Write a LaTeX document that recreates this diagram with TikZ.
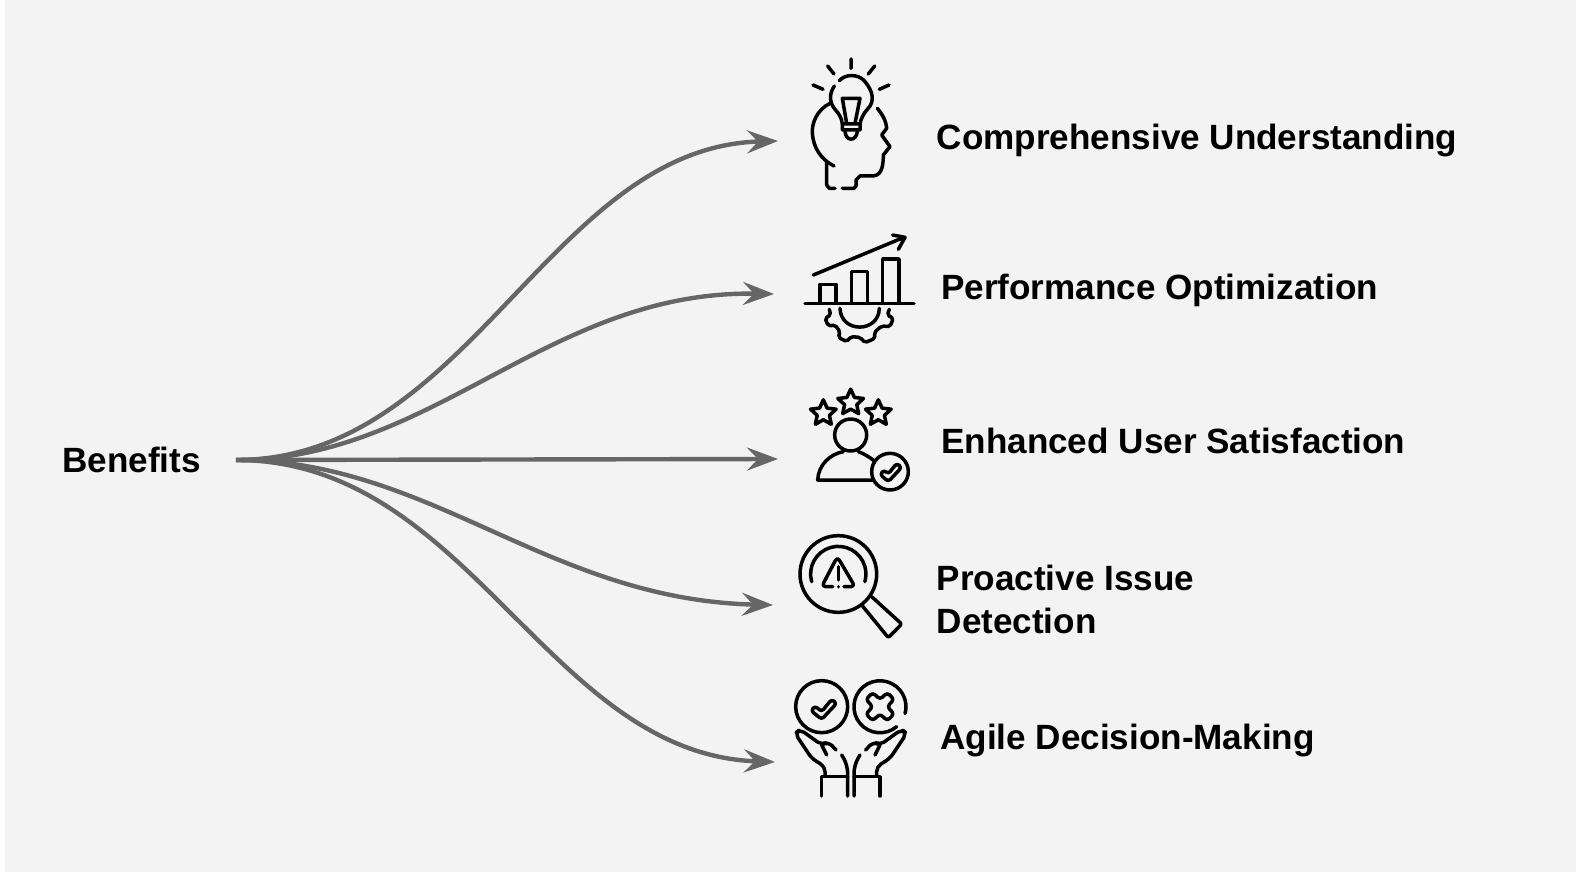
\documentclass[tikz,border=0pt]{standalone}
\usepackage{fontspec}
\setmainfont{Liberation Sans}
\usetikzlibrary{shapes.geometric,arrows.meta}
\definecolor{panelgray}{HTML}{F3F3F3}
\definecolor{branchgray}{HTML}{666666}

\tikzset{
  label/.style={font=\fontsize{35.1}{43}\selectfont\bfseries, anchor=west, inner sep=0pt, align=left, text=black},
  branch/.style={draw=branchgray, line width=4.4pt, -{Stealth[length=31pt,width=23pt,inset=11pt]}},
  icon/.style={draw=black, line width=3.5pt, line cap=round, line join=round},
  iconstar/.style={icon, shape=star, star points=5, star point ratio=2.1, minimum size=27pt, inner sep=0pt}
}

\begin{document}
\begin{tikzpicture}[x=1pt, y=-1pt]
  \useasboundingbox (0,0) rectangle (1576,874);
  \fill[panelgray] (4.5,0) rectangle (1576,871.5);

  \node[label] (benefits) at (62,460) {Benefits};
  \node[label] (compre) at (936.5,140.5) {Comprehensive Understanding};
  \node[label] (perf) at (941,290.5) {Performance Optimization};
  \node[label] (user) at (941,441) {Enhanced User Satisfaction};
  \node[label] (issue) at (936.5,599) {Proactive Issue\\Detection};
  \node[label] (agile) at (940,740) {Agile Decision-Making};

  \coordinate (hub) at (236,460);
  \coordinate (tipa) at (778,141);
  \coordinate (tipb) at (774,294);
  \coordinate (tipc) at (778,459);
  \coordinate (tipd) at (773,605);
  \coordinate (tipe) at (775,762);

  \draw[branch] (hub) .. controls +(234,0) and +(-228,6) .. (tipa);
  \draw[branch] (hub) .. controls +(198,0) and +(-225,-4) .. (tipb);
  \draw[branch] (hub) -- (tipc);
  \draw[branch] (hub) .. controls +(195,0) and +(-225,-5) .. (tipd);
  \draw[branch] (hub) .. controls +(234,0) and +(-228,-8) .. (tipe);

  % head with bulb
  \begin{scope}[shift={(780,40)}, scale=1/3]
    \draw[icon] (213,57) -- (213,85) (143,78) -- (162,102) (284,78) -- (265,102) (99,135) -- (129,148) (327,135) -- (298,148);
    \draw[icon] (178,122) .. controls (195,102) and (235,100) .. (255,125) .. controls (280,155) and (285,185) .. (262,208) .. controls (250,222) and (243,235) .. (240,252) -- (240,270) -- (187,270) -- (187,252) .. controls (185,235) and (178,222) .. (165,208) .. controls (150,190) and (145,165) .. (163,138);
    \draw[icon] (187,252) -- (240,252) (195,275) .. controls (198,305) and (228,305) .. (232,275);
    \draw[icon] (200,250) -- (187,175) -- (240,175) -- (225,250);
    \draw[icon] (150,190) .. controls (110,210) and (95,250) .. (97,280) .. controls (100,325) and (125,360) .. (162,378);
    \draw[icon] (140,365) -- (140,435) -- (148,445) -- (165,445);
    \draw[icon] (187,445) -- (222,445) -- (228,438) -- (228,420) -- (240,408) -- (275,408) .. controls (300,408) and (310,390) .. (310,345) -- (330,320) -- (305,285) -- (320,265) .. controls (318,240) and (305,220) .. (292,205);
  \end{scope}

  % chart on gear
  \begin{scope}[shift={(780,220)}, scale=1/3]
    \draw[icon] (75,250) -- (402,250);
    \draw[icon] (120,250) -- (120,193) -- (168,193) -- (168,250);
    \draw[icon] (215,250) -- (215,155) -- (263,155) -- (263,250);
    \draw[icon] (308,250) -- (308,117) -- (357,117) -- (357,250);
    \draw[icon] (100,165) -- (372,52) (338,45) -- (375,52) -- (355,88);
    \draw[icon] (180,265) .. controls (182,340) and (296,340) .. (298,265);
    \draw[icon, rounded corners=2pt] (148,268) -- (152,285) -- (135,295) -- (145,318) -- (165,315) -- (180,335) -- (175,352) -- (200,365) -- (213,350) -- (240,352) -- (255,368) -- (285,355) -- (283,337) -- (305,318) -- (330,320) -- (340,295) -- (322,285) -- (328,268);
  \end{scope}

  % user with stars
  \begin{scope}[shift={(780,380)}, scale=1/3]
    \foreach \name/\px/\py in {stara/130/100, starb/212/68, starc/295/100}
      \node[iconstar] (\name) at (\px,\py) {};
    \draw[icon] (212,165) circle (48);
    \draw[icon] (278,300) -- (113,300) .. controls (115,255) and (150,222) .. (190,215);
    \draw[icon] (235,215) .. controls (250,220) and (270,232) .. (283,243);
    \draw[icon] (330,275) circle (55);
    \draw[icon, rounded corners=3pt] (300,283) -- (312,270) -- (325,282) -- (350,250) -- (365,262) -- (325,305) -- cycle;
  \end{scope}

  % magnifier with warning sign
  \begin{scope}[shift={(780,525)}, scale=1/3]
    \draw[icon] (175,147) circle (115);
    \draw[icon] (95,170) arc[start angle=164, end angle=376, radius=83];
    \draw[icon, rounded corners=4pt] (158,185) -- (125,185) -- (172,95) -- (225,185) -- (192,185);
    \draw[icon] (175,125) -- (175,165) (175,185) -- (175,185.5);
    \draw[icon, rounded corners=2pt] (245,240) -- (325,338) -- (365,297) -- (275,215);
  \end{scope}

  % hands with check and cross
  \begin{scope}[shift={(780,670)}, scale=1/3]
    \draw[icon] (125,110) circle (78);
    \draw[icon] (350,170) arc[start angle=50, end angle=375, radius=78];
    \draw[icon, rounded corners=3pt] (93,122) -- (105,108) -- (125,125) -- (155,88) -- (170,100) -- (125,148) -- cycle;
    \draw[icon, rounded corners=3pt] (300,88) -- (322,68) -- (342,88) -- (322,110) -- (342,132) -- (322,152) -- (300,132) -- (278,152) -- (258,132) -- (278,110) -- (258,88) -- (278,68) -- cycle;
    \foreach \sx/\ox in {1/0, -1/425} {
      \begin{scope}[shift={(\ox,0)}, xscale=\sx]
        \draw[icon, rounded corners=5pt] (135,318) -- (135,290) -- (95,265) -- (45,190) -- (60,178) -- (125,225) -- (145,215) -- (168,240);
        \draw[icon] (125,225) -- (140,255);
        \draw[icon, rounded corners=8pt] (185,255) -- (203,285) -- (203,378);
        \draw[icon] (125,378) -- (125,320) -- (203,320);
      \end{scope}
    }
  \end{scope}
\end{tikzpicture}
\end{document}
